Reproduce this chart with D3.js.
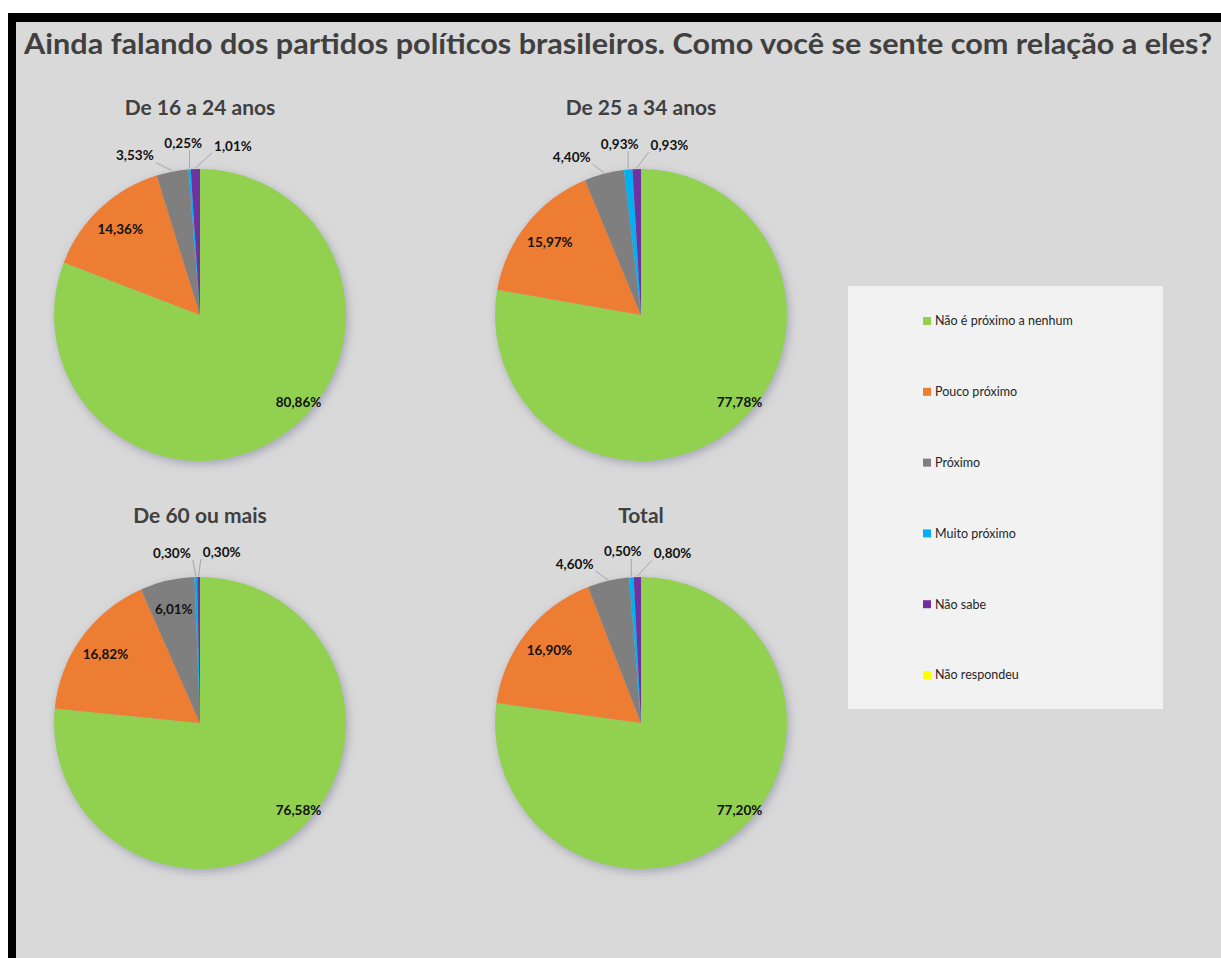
<!DOCTYPE html>
<html>
<head>
<meta charset="utf-8">
<script src="https://cdn.jsdelivr.net/npm/d3@7"></script>
<style>
body { margin: 0; background: #fff; }
text { font-family: Lato, "Open Sans", sans-serif; }
</style>
</head>
<body>
<svg id="chart" width="1221" height="958"></svg>
<script>
const categories = ["Não é próximo a nenhum", "Pouco próximo", "Próximo", "Muito próximo", "Não sabe", "Não respondeu"];
const groups = ["De 16 a 24 anos", "De 25 a 34 anos", "De 60 ou mais", "Total"];
const values16a24 = [80.86, 14.36, 3.53, 0.25, 1.01, 0];
const values25a34 = [77.78, 15.97, 4.40, 0.93, 0.93, 0];
const values60mais = [76.58, 16.82, 6.01, 0.30, 0.30, 0];
const valuesTotal = [77.20, 16.90, 4.60, 0.50, 0.80, 0];
const seriesValues = [values16a24, values25a34, values60mais, valuesTotal];
const colors = ["#92d050", "#ed7d31", "#7f7f7f", "#00b0f0", "#7030a0", "#ffff00"];

const svg = d3.select("#chart");
const W = 1221, H = 958;

// frame: white strip, black border, gray plot area
svg.append("rect").attr("x", 8).attr("y", 13).attr("width", W - 8).attr("height", H - 13).attr("fill", "#000");
svg.append("rect").attr("x", 16).attr("y", 22).attr("width", W - 16).attr("height", H - 22).attr("fill", "#d9d9d9");

svg.append("text")
    .attr("x", 24).attr("y", 54)
    .attr("textLength", 1188).attr("lengthAdjust", "spacingAndGlyphs")
    .attr("font-size", 29).attr("font-weight", 700).attr("fill", "#404040")
    .text("Ainda falando dos partidos políticos brasileiros. Como você se sente com relação a eles?");

const defs = svg.append("defs");
const shadow = defs.append("filter").attr("id", "shadow")
    .attr("x", "-20%").attr("y", "-20%").attr("width", "140%").attr("height", "140%");
shadow.append("feDropShadow")
    .attr("dx", 2).attr("dy", 3).attr("stdDeviation", 5)
    .attr("flood-color", "#7a7a9a").attr("flood-opacity", 0.55);

const color = d3.scaleOrdinal().domain(categories).range(colors);
const fmt = d3.formatLocale({ decimal: ",", thousands: ".", grouping: [3], currency: ["R$", ""] }).format(".2f");

const r = 146;
const colX = d3.scalePoint().domain([0, 1]).range([200, 641]);
const rowY = d3.scalePoint().domain([0, 1]).range([315, 723]);

const pie = d3.pie().sort(null).value(d => d.value);
const arc = d3.arc().innerRadius(0).outerRadius(r);

groups.forEach((name, gi) => {
    const cx = colX(gi % 2), cy = rowY(Math.floor(gi / 2));
    const data = categories.map((c, i) => ({ cat: c, value: seriesValues[gi][i] }));
    const arcs = pie(data);

    const g = svg.append("g").attr("transform", `translate(${cx},${cy})`);

    g.append("text")
        .attr("x", 0).attr("y", -r - 54)
        .attr("text-anchor", "middle")
        .attr("font-size", 21).attr("font-weight", 700).attr("fill", "#404040")
        .text(name);

    g.append("g").attr("filter", "url(#shadow)")
        .selectAll("path")
        .data(arcs.filter(d => d.value > 0))
        .join("path")
        .attr("d", arc)
        .attr("fill", d => color(d.data.cat));

    const labels = g.append("g");
    const mid = d => (d.startAngle + d.endAngle) / 2;

    // inside labels
    arcs.filter(d => d.value >= 5).forEach(d => {
        let a = mid(d), rr = r * 0.8;
        if (d.endAngle - d.startAngle > Math.PI) { a = Math.min(a, 0.73 * Math.PI); rr = r * 0.9; }
        labels.append("text")
            .attr("x", rr * Math.sin(a)).attr("y", -rr * Math.cos(a))
            .attr("dy", "0.35em").attr("text-anchor", "middle")
            .attr("font-size", 13.5).attr("font-weight", 700).attr("fill", "#111")
            .text(fmt(d.value) + "%");
    });

    // outside labels for small slices, spread apart around the top
    const small = arcs.filter(d => d.value > 0 && d.value < 5);
    const ang = small.map(mid);
    const sep = 0.29;
    for (let k = 0; k < 60; k++) {
        for (let i = 0; i < ang.length - 1; i++) {
            const gap = ang[i + 1] - ang[i];
            if (gap < sep) {
                const s = (sep - gap) / 2;
                ang[i] -= s; ang[i + 1] += s;
            }
        }
    }
    const R = r * 1.18;
    small.forEach((d, i) => {
        const lx = R * Math.sin(ang[i]), ly = -R * Math.cos(ang[i]);
        const t = labels.append("text")
            .attr("x", lx).attr("y", ly)
            .attr("dy", "0.35em").attr("text-anchor", "middle")
            .attr("font-size", 13.5).attr("font-weight", 700).attr("fill", "#111")
            .text(fmt(d.value) + "%");
        const w = t.node().getComputedTextLength();
        const am = mid(d);
        const ax = (r + 1) * Math.sin(am), ay = -(r + 1) * Math.cos(am);
        const px = Math.max(lx - w / 2 - 2, Math.min(lx + w / 2 + 2, ax));
        const py = Math.max(ly - 7, Math.min(ly + 7, ay));
        if (Math.hypot(ax - px, ay - py) > 9) {
            labels.insert("path", "text")
                .attr("d", d3.line()([[px, py], [ax, ay]]))
                .attr("fill", "none").attr("stroke", "#a6a6a6").attr("stroke-width", 1);
        }
    });
});

// legend
const legend = svg.append("g");
legend.append("rect")
    .attr("x", 848).attr("y", 286).attr("width", 315).attr("height", 423)
    .attr("fill", "#f2f2f2");
const legY = d3.scalePoint().domain(categories).range([321, 675]);
const item = legend.selectAll("g.item").data(categories).join("g")
    .attr("class", "item")
    .attr("transform", d => `translate(923,${legY(d)})`);
item.append("rect").attr("x", 0).attr("y", -4).attr("width", 8).attr("height", 8)
    .attr("fill", d => color(d));
item.append("text").attr("x", 12).attr("dy", "0.35em")
    .attr("font-size", 12.5).attr("fill", "#262626")
    .text(d => d);
</script>
</body>
</html>
